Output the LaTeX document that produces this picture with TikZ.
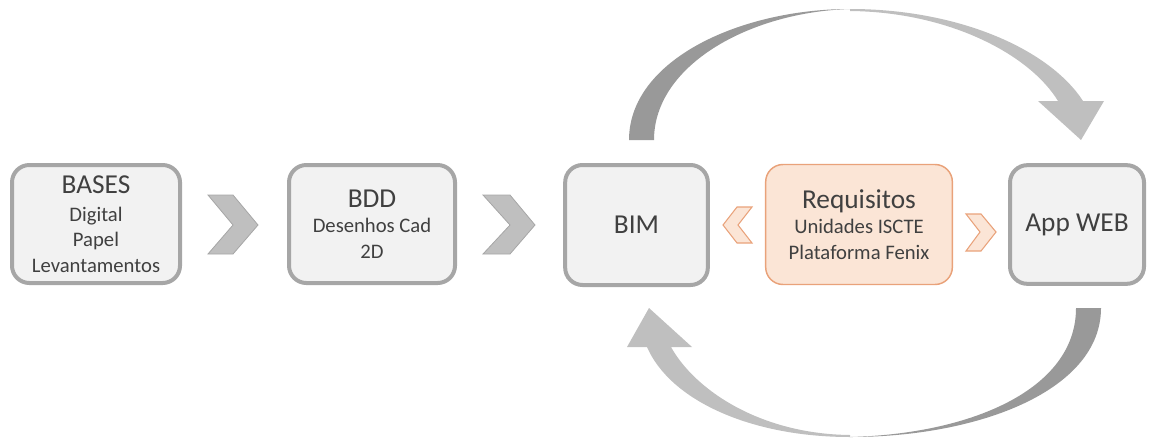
\documentclass[tikz,border=0pt]{standalone}
\usepackage{fontspec}
\setmainfont{Carlito}
\definecolor{txtgray}{HTML}{404040}
\definecolor{boxfill}{HTML}{F2F2F2}
\definecolor{boxline}{HTML}{A6A6A6}
\definecolor{reqfill}{HTML}{FBE5D6}
\definecolor{reqline}{HTML}{E9A27A}
\definecolor{chevfill}{HTML}{BFBFBF}
\definecolor{arrowdark}{HTML}{999999}
\definecolor{arrowlight}{HTML}{BFBFBF}
\newcommand{\stagetitle}[1]{{\fontsize{20.5}{24}\selectfont #1}}
\begin{document}
\begin{tikzpicture}[x=0.75pt,y=-0.75pt,
    stage/.style={draw=boxline,fill=boxfill,line width=3pt,rounded corners=13pt,
      align=center,inner sep=0pt,text=txtgray,font=\fontsize{15.5}{19}\selectfont},
    chev/.style={fill=chevfill,draw=boxline,line width=0.6pt},
    ochev/.style={fill=reqfill,draw=reqline,line width=0.8pt}]
    \useasboundingbox (0,0) rectangle (1151,439);
    % stages
    \node[stage,minimum width=126pt,minimum height=88.5pt] (bases) at (96,224) {\stagetitle{BASES}\\[2pt]Digital\\Papel\\Levantamentos};
    \node[stage,minimum width=124.5pt,minimum height=88.5pt] (bdd) at (372,224) {\stagetitle{BDD}\\[0pt]Desenhos Cad\\2D};
    \node[stage,minimum width=107pt,minimum height=90pt] (bim) at (636.5,225) {\stagetitle{BIM}};
    \node[stage,draw=reqline,fill=reqfill,line width=1.1pt,minimum width=140pt,minimum height=90pt] (req) at (859,224.5) {\stagetitle{Requisitos}\\[0pt]Unidades ISCTE\\Plataforma Fenix};
    \node[stage,minimum width=100.5pt,minimum height=89pt] (app) at (1077,224.5) {\stagetitle{App WEB}};
    % chevrons
    \draw[chev] (208,195) -- (233,195) -- (258,225) -- (233,254) -- (208,254) -- (233,225) -- cycle;
    \draw[chev] (483,195) -- (510,195) -- (535,225) -- (510,254) -- (483,254) -- (510,225) -- cycle;
    \draw[ochev] (752,207) -- (737,207) -- (723,225) -- (737,243) -- (752,243) -- (738,225) -- cycle;
    \draw[ochev] (966,214) -- (981,214) -- (996,232) -- (981,251) -- (966,251) -- (980,232) -- cycle;
    % curved arrow BIM -> App WEB
    \fill[arrowdark] (629,140) .. controls (629,60) and (740,9) .. (850,9)
      .. controls (750,12) and (654,65) .. (654,140) -- cycle;
    \fill[arrowlight] (850,9) .. controls (960,9) and (1050,50) .. (1083,101)
      -- (1104,101) -- (1081,140) -- (1038,101) -- (1058,101)
      .. controls (1030,55) and (950,12) .. (850,11) -- cycle;
    % curved arrow App WEB -> BIM
    \fill[arrowdark] (1101,308) .. controls (1101,390) and (980,437) .. (850,437)
      .. controls (970,434) and (1076,390) .. (1076,308) -- cycle;
    \fill[arrowlight] (850,437) .. controls (750,437) and (670,400) .. (647,347)
      -- (627,347) -- (649,308) -- (692,347) -- (671,347)
      .. controls (695,390) and (760,434) .. (850,435) -- cycle;
\end{tikzpicture}
\end{document}
